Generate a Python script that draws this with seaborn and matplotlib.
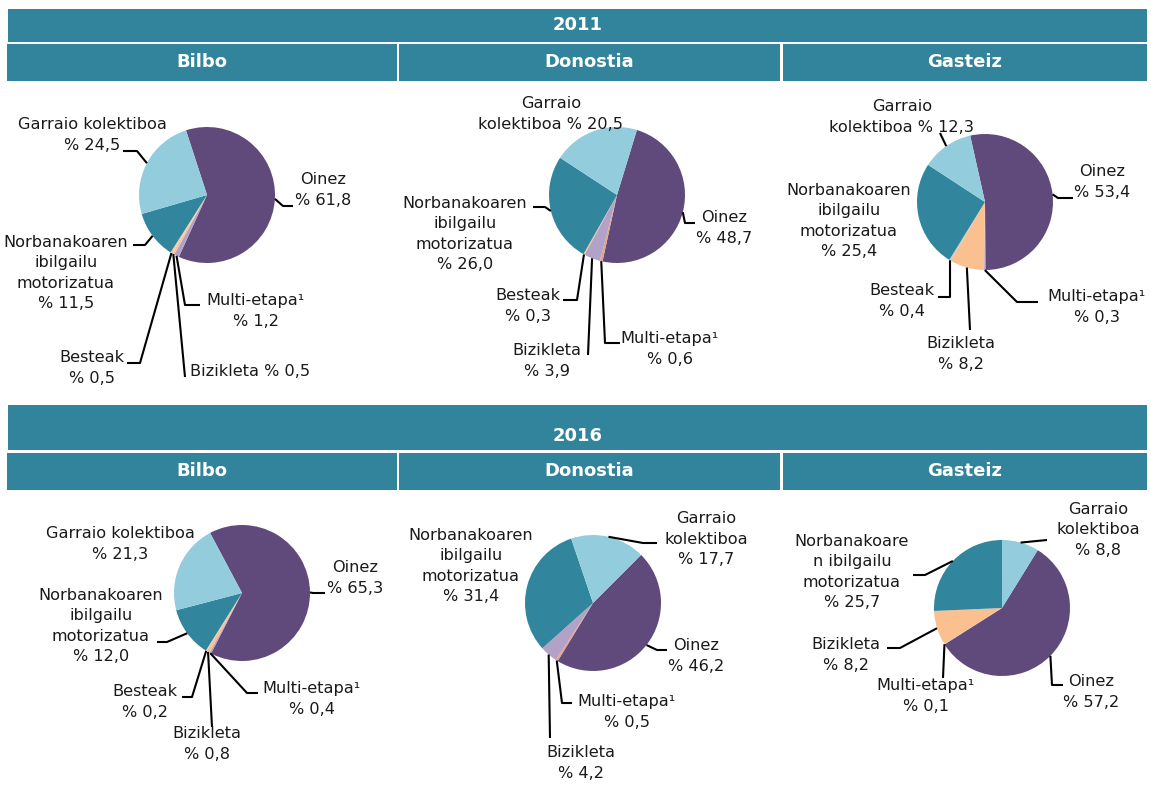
import numpy as np
import matplotlib
matplotlib.use("Agg")
import matplotlib.pyplot as plt
import seaborn as sns
from matplotlib.patches import Rectangle

W, H = 1151, 794

# ---------------- data ----------------
YEARS = ["2011", "2016"]
CITIES = ["Bilbo", "Donostia", "Gasteiz"]
CATEGORIES = ["Oinez", "Multi-etapa¹", "Bizikleta", "Besteak",
              "Norbanakoaren ibilgailu motorizatua", "Garraio kolektiboa"]

bilbo_2011 = [61.8, 1.2, 0.5, 0.5, 11.5, 24.5]
donostia_2011 = [48.7, 0.6, 3.9, 0.3, 26.0, 20.5]
gasteiz_2011 = [53.4, 0.3, 8.2, 0.4, 25.4, 12.3]
bilbo_2016 = [65.3, 0.4, 0.8, 0.2, 12.0, 21.3]
donostia_2016 = [46.2, 0.5, 4.2, 0.0, 31.4, 17.7]
gasteiz_2016 = [57.2, 0.1, 8.2, 0.0, 25.7, 8.8]

VALUES = {
    ("2011", "Bilbo"): bilbo_2011,
    ("2011", "Donostia"): donostia_2011,
    ("2011", "Gasteiz"): gasteiz_2011,
    ("2016", "Bilbo"): bilbo_2016,
    ("2016", "Donostia"): donostia_2016,
    ("2016", "Gasteiz"): gasteiz_2016,
}

# ---------------- styles ----------------
sns.set_theme(style="white")
plt.rcParams["font.family"] = ["DejaVu Sans"]

TEAL_HEAD = "#31849B"
PURPLE, LAV, PEACH, TEAL, LBLUE = sns.color_palette(
    ["#604A7B", "#B3A2C7", "#FAC090", "#31859C", "#93CDDD"])
SALMON = "#E8A283"
PALE = "#F2CDB0"
GREY = "#C9C9C9"

CITY_COLORS = {
    "Bilbo": [PURPLE, LAV, PEACH, PALE, TEAL, LBLUE],
    "Donostia": [PURPLE, SALMON, LAV, PEACH, TEAL, LBLUE],
    "Gasteiz": [PURPLE, LAV, PEACH, GREY, TEAL, LBLUE],
}

R = 68
TXT = "#1a1a1a"
FS = 11.6
LSP = 1.42

# layout: pixel coords (y down). labels: idx -> (template, text pos, ha, leader pts)
LAYOUT = {
    ("2011", "Bilbo"): dict(center=(207, 195), start=108, labels={
        0: ("Oinez\n% {v}", (323, 190), "center", [(293, 206), (283, 206)]),
        1: ("Multi-etapa¹\n% {v}", (256, 311), "center", [(200, 305), (185, 305)]),
        2: ("Bizikleta % {v}", (190, 372), "left", [(185, 377)]),
        3: ("Besteak\n% {v}", (92, 368), "center", [(127, 363), (140, 363)]),
        4: ("Norbanakoaren\nibilgailu\nmotorizatua\n% {v}", (66, 273), "center", [(133, 245), (145, 245)]),
        5: ("Garraio kolektiboa\n% {v}", (92, 135), "center", [(123, 151), (137, 151)]),
    }),
    ("2011", "Donostia"): dict(center=(617, 195), start=73, labels={
        0: ("Oinez\n% {v}", (724, 228), "center", [(695, 223), (685, 223)]),
        1: ("Multi-etapa¹\n% {v}", (670, 349), "center", [(620, 343), (605, 343)]),
        2: ("Bizikleta\n% {v}", (547, 361), "center", [(588, 355)]),
        3: ("Besteak\n% {v}", (528, 306), "center", [(563, 300), (577, 300)]),
        4: ("Norbanakoaren\nibilgailu\nmotorizatua\n% {v}", (465, 234), "center", [(533, 207), (545, 207)]),
        5: ("Garraio\nkolektiboa % {v}", (551, 114), "center", None),
    }),
    ("2011", "Gasteiz"): dict(center=(985, 202), start=102.6, labels={
        0: ("Oinez\n% {v}", (1102, 182), "center", [(1073, 198), (1058, 198)]),
        1: ("Multi-etapa¹\n% {v}", (1097, 307), "center", [(1038, 302), (1017, 302)]),
        2: ("Bizikleta\n% {v}", (961, 354), "center", [(970, 330)]),
        3: ("Besteak\n% {v}", (902, 301), "center", [(938, 297), (950, 297)]),
        4: ("Norbanakoaren\nibilgailu\nmotorizatua\n% {v}", (849, 221), "center", None),
        5: ("Garraio\nkolektiboa % {v}", (902, 117), "center", [(940, 133)]),
    }),
    ("2016", "Bilbo"): dict(center=(242, 593), start=118, labels={
        0: ("Oinez\n% {v}", (355, 578), "center", [(325, 593), (313, 593)]),
        1: ("Multi-etapa¹\n% {v}", (312, 699), "center", [(258, 693), (247, 693)]),
        2: ("Bizikleta\n% {v}", (207, 744), "center", [(212, 727)]),
        3: ("Besteak\n% {v}", (145, 702), "center", [(182, 697), (192, 697)]),
        4: ("Norbanakoaren\nibilgailu\nmotorizatua\n% {v}", (101, 626), "center", [(157, 642), (167, 642)]),
        5: ("Garraio kolektiboa\n% {v}", (120, 544), "center", None),
    }),
    ("2016", "Donostia"): dict(center=(593, 603), start=45, labels={
        0: ("Oinez\n% {v}", (696, 656), "center", [(667, 650), (657, 650)]),
        1: ("Multi-etapa¹\n% {v}", (627, 712), "center", [(572, 703), (562, 703)]),
        2: ("Bizikleta\n% {v}", (581, 763), "center", [(550, 738)]),
        4: ("Norbanakoaren\nibilgailu\nmotorizatua\n% {v}", (471, 566), "center", None),
        5: ("Garraio\nkolektiboa\n% {v}", (706, 539), "center", [(657, 543), (643, 543)]),
    }),
    ("2016", "Gasteiz"): dict(center=(1002, 608), start=58.3, labels={
        0: ("Oinez\n% {v}", (1091, 692), "center", [(1063, 685), (1052, 685)]),
        1: ("Multi-etapa¹\n% {v}", (926, 696), "center", [(943, 678)]),
        2: ("Bizikleta\n% {v}", (846, 655), "center", [(887, 648), (900, 648)]),
        4: ("Norbanakoare\nn ibilgailu\nmotorizatua\n% {v}", (852, 572), "center", [(913, 575), (925, 575)]),
        5: ("Garraio\nkolektiboa\n% {v}", (1098, 530), "center", [(1047, 540)]),
    }),
}

# header bands (pixel coords, y down)
BANDS = {
    "2011": dict(top=(9, 42, 25), sub=(44, 81, 62)),
    "2016": dict(top=(405, 450, 436), sub=(453, 490, 471)),
}
SUB_X = [(7, 397), (399, 780), (783, 1147)]
TOP_X = (8, 1147)


def Y(y):
    return H - y


fig = plt.figure(figsize=(W / 100, H / 100), dpi=100)
ax = fig.add_axes([0, 0, 1, 1])

# headers
for year in YEARS:
    b = BANDS[year]
    y0, y1, yt = b["top"]
    ax.add_patch(Rectangle((TOP_X[0], Y(y1)), TOP_X[1] - TOP_X[0], y1 - y0,
                           color=TEAL_HEAD, lw=0))
    ax.text((TOP_X[0] + TOP_X[1]) / 2, Y(yt), year, color="white",
            fontsize=13, fontweight="bold", ha="center", va="center")
    y0, y1, yt = b["sub"]
    for (x0, x1), city in zip(SUB_X, CITIES):
        ax.add_patch(Rectangle((x0, Y(y1)), x1 - x0, y1 - y0,
                               color=TEAL_HEAD, lw=0))
        ax.text((x0 + x1) / 2, Y(yt), city, color="white",
                fontsize=13, fontweight="bold", ha="center", va="center")

# pies
for year in YEARS:
    for city in CITIES:
        vals = VALUES[(year, city)]
        lay = LAYOUT[(year, city)]
        cx, cy = lay["center"]
        wedges, _ = ax.pie(vals, colors=CITY_COLORS[city], startangle=lay["start"],
                           counterclock=False, radius=R, center=(cx, Y(cy)),
                           wedgeprops=dict(linewidth=0), frame=True)
        for idx, (tmpl, (tx, ty), ha, pts) in lay["labels"].items():
            v = vals[idx]
            if v <= 0:
                continue
            txt = tmpl.format(v=f"{v:.1f}".replace(".", ","))
            ax.text(tx, Y(ty), txt, ha=ha, va="center", multialignment="center",
                    fontsize=FS, color=TXT, linespacing=LSP)
            if pts:
                w = wedges[idx]
                mid = np.deg2rad((w.theta1 + w.theta2) / 2)
                px = cx + R * np.cos(mid)
                py = Y(cy) + R * np.sin(mid)
                xs = [p[0] for p in pts] + [px]
                ys = [Y(p[1]) for p in pts] + [py]
                ax.plot(xs, ys, color="black", lw=1.5, solid_capstyle="butt")

ax.set_xlim(0, W)
ax.set_ylim(0, H)
ax.set_aspect("equal")
ax.axis("off")
fig.savefig("out.png", dpi=100, facecolor="white")
